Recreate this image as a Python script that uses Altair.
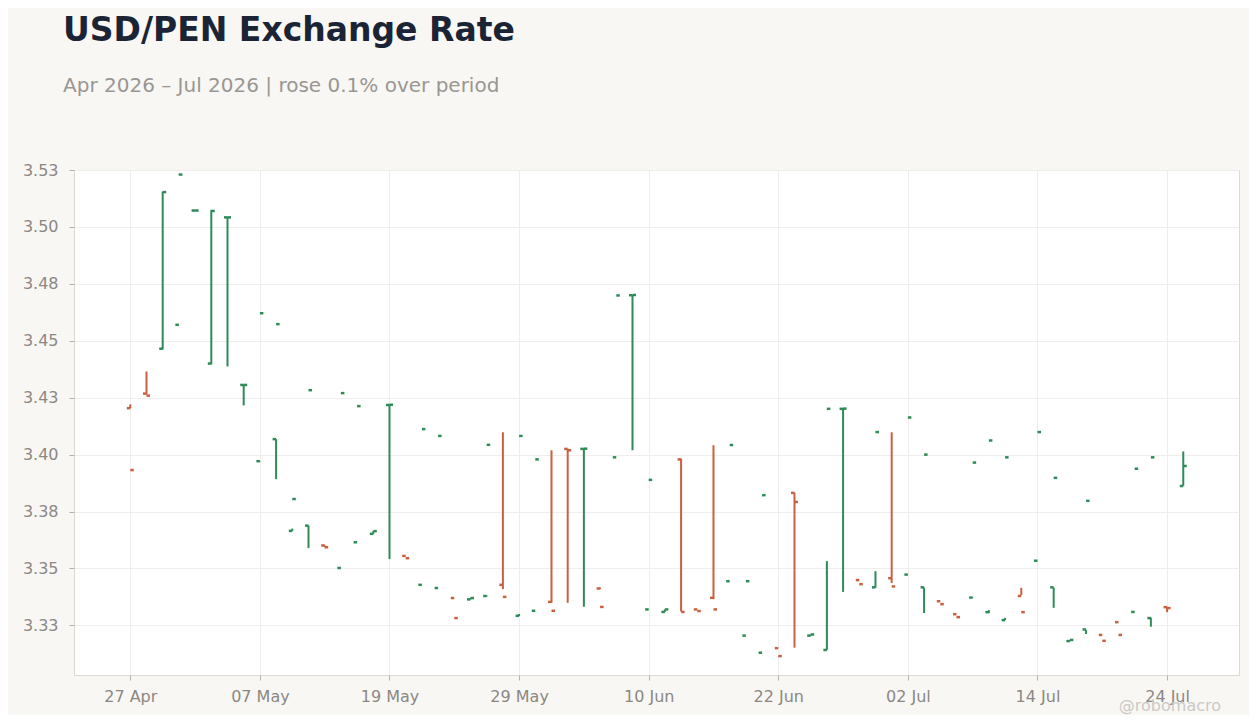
import pandas as pd
import altair as alt

# daily OHLC, one row per business day starting 27 Apr 2026
opens = [3.4204, 3.4268, 3.4465, 3.4570, 3.5072, 3.4400, 3.5042, 3.4306, 3.3971, 3.4068,
         3.3665, 3.3688, 3.3601, 3.3502, 3.3615, 3.3652, 3.4218, 3.3555, 3.3428, 3.3414,
         3.3370, 3.3364, 3.3379, 3.3428, 3.3292, 3.3314, 3.3353, 3.4025, 3.4025, 3.3412,
         3.3988, 3.4700, 3.3320, 3.3309, 3.3979, 3.3320, 3.3371, 3.3444, 3.3205, 3.3130,
         3.3150, 3.3832, 3.3205, 3.3142, 3.4201, 3.3449, 3.3417, 3.3457, 3.3473, 3.3417,
         3.3356, 3.3299, 3.3372, 3.3308, 3.3273, 3.3379, 3.3534, 3.3417, 3.3181, 3.3232,
         3.3208, 3.3264, 3.3309, 3.3282, 3.3330, 3.3862]
highs = [3.4221, 3.4365, 3.5155, 3.5231, 3.5073, 3.5075, 3.5043, 3.4307, 3.3972, 3.4068,
         3.3675, 3.3689, 3.3602, 3.3502, 3.3615, 3.3664, 3.4219, 3.3555, 3.3428, 3.3414,
         3.3370, 3.3370, 3.3381, 3.4098, 3.3300, 3.3314, 3.4019, 3.4026, 3.4027, 3.3416,
         3.3988, 3.4701, 3.3320, 3.3320, 3.3982, 3.3320, 3.4041, 3.3444, 3.3205, 3.3130,
         3.3150, 3.3833, 3.3210, 3.3532, 3.4202, 3.3449, 3.3488, 3.4098, 3.3473, 3.3416,
         3.3356, 3.3299, 3.3373, 3.3317, 3.3283, 3.3415, 3.3534, 3.3416, 3.3186, 3.3230,
         3.3208, 3.3264, 3.3309, 3.3284, 3.3329, 3.4014]
lows = [3.4204, 3.4264, 3.4462, 3.5229, 3.5071, 3.4396, 3.4387, 3.4216, 3.3970, 3.3892,
        3.3665, 3.3589, 3.3593, 3.3502, 3.3615, 3.3652, 3.3541, 3.3555, 3.3428, 3.3414,
        3.3370, 3.3364, 3.3377, 3.3409, 3.3291, 3.3314, 3.3349, 3.3349, 3.3332, 3.3409,
        3.3988, 3.4019, 3.3320, 3.3309, 3.3311, 3.3320, 3.3365, 3.3444, 3.3205, 3.3130,
        3.3150, 3.3152, 3.3205, 3.3142, 3.3397, 3.3449, 3.3415, 3.3436, 3.3473, 3.3304,
        3.3356, 3.3299, 3.3371, 3.3304, 3.3273, 3.3383, 3.3534, 3.3327, 3.3181, 3.3212,
        3.3208, 3.3264, 3.3309, 3.3244, 3.3308, 3.3863]
closes = [3.3932, 3.4259, 3.5153, 3.5230, 3.5072, 3.5070, 3.5042, 3.4306, 3.4621, 3.4573,
          3.3805, 3.4283, 3.3593, 3.4270, 3.4213, 3.3664, 3.4219, 3.3545, 3.4112, 3.4082,
          3.3282, 3.3370, 3.4043, 3.3375, 3.4082, 3.3979, 3.3314, 3.4019, 3.4026, 3.3331,
          3.4699, 3.4701, 3.3889, 3.3320, 3.3309, 3.3313, 3.3320, 3.4042, 3.3444, 3.3822,
          3.3115, 3.3792, 3.3210, 3.4201, 3.4202, 3.3431, 3.4099, 3.3421, 3.4163, 3.4000,
          3.3343, 3.3286, 3.3965, 3.4062, 3.3988, 3.3308, 3.4099, 3.3898, 3.3186, 3.3797,
          3.3182, 3.3208, 3.3938, 3.3988, 3.3326, 3.3950]

tick_labels = ["27 Apr", "07 May", "19 May", "29 May", "10 Jun", "22 Jun", "02 Jul", "14 Jul", "24 Jul"]
y_ticks = [3.325, 3.35, 3.375, 3.4, 3.425, 3.45, 3.475, 3.5, 3.525]

UP, DOWN = "#2e8b57", "#c9603f"

df = pd.DataFrame({"open": opens, "high": highs, "low": lows, "close": closes})
df["day"] = range(len(df))
df["dir"] = ["up" if c >= o else "down" for o, c in zip(opens, closes)]

label_expr = "[" + ",".join(f"'{t}'" for t in tick_labels) + "][round(datum.value / 8)]"

x = alt.X(
    "day:Q",
    title=None,
    scale=alt.Scale(domain=[-3.475, 68.44], nice=False, zero=False),
    axis=alt.Axis(values=[i * 8 for i in range(len(tick_labels))], labelExpr=label_expr),
)
y = alt.Y(
    "low:Q",
    title=None,
    scale=alt.Scale(domain=[3.3032, 3.525], nice=False, zero=False),
    axis=alt.Axis(values=y_ticks, labelExpr="format(datum.value + 0.0001, '.2f')"),
)
color = alt.Color("dir:N", scale=alt.Scale(domain=["up", "down"], range=[UP, DOWN]), legend=None)

base = alt.Chart(df)

wicks = base.mark_rule(strokeWidth=2).encode(x=x, y=y, y2="high:Q", color=color)

# open tick to the left of the wick, close tick to the right
open_ticks = base.mark_tick(orient="horizontal", size=3.5, thickness=2.5, xOffset=-1.75, opacity=1).encode(
    x="day:Q", y="open:Q", color=color
)
close_ticks = base.mark_tick(orient="horizontal", size=3.5, thickness=2.5, xOffset=1.75, opacity=1).encode(
    x="day:Q", y="close:Q", color=color
)

credit = (
    alt.Chart(pd.DataFrame({"t": ["@robomacro"]}))
    .mark_text(align="right", baseline="alphabetic", fontSize=16, color="#cdc9c4", font="DejaVu Sans")
    .encode(text="t:N", x=alt.value(1147), y=alt.value(541))
)

chart = (
    alt.layer(wicks, open_ticks, close_ticks, credit)
    .properties(
        width=1165,
        height=505,
        autosize=alt.AutoSizeParams(type="none"),
        padding={"left": 66, "top": 162, "right": 10, "bottom": 40},
        title=alt.TitleParams(
            "USD/PEN Exchange Rate",
            subtitle="Apr 2026 – Jul 2026 | rose 0.1% over period",
            anchor="start",
            frame="group",
            dx=-11,
            offset=66,
            font="DejaVu Sans",
            fontSize=33,
            fontWeight="bold",
            color="#1b2434",
            subtitleFont="DejaVu Sans",
            subtitleFontSize=20,
            subtitleColor="#9a9691",
            subtitlePadding=28,
        ),
    )
    .configure(background="#f8f7f4")
    .configure_view(fill="white", stroke="#dcd8d2", strokeWidth=1)
    .configure_axis(
        labelFont="DejaVu Sans",
        labelFontSize=16,
        labelColor="#8c8782",
        gridColor="#efeeec",
        domain=False,
        tickColor="#b5b1ac",
        tickSize=5,
    )
    .configure_axisY(labelPadding=11)
    .configure_axisX(labelPadding=8)
)

chart.save("out.html", embed_options={"renderer": "svg", "actions": False})
